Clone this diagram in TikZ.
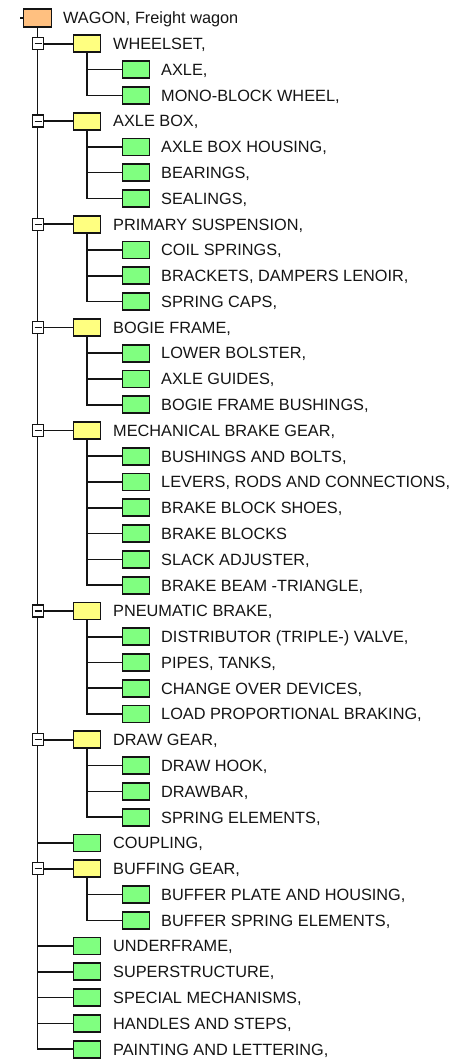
\documentclass[tikz,border=0pt]{standalone}
\usepackage{fontspec}
\setmainfont{Liberation Sans}
\pgfdeclarelayer{background}
\pgfsetlayers{background,main}
\definecolor{rootc}{HTML}{FFC080}
\definecolor{grpc}{HTML}{FFFF80}
\definecolor{leafc}{HTML}{80FF80}
\definecolor{inkc}{HTML}{141414}
\tikzset{
  box/.style={draw=inkc, line width=1.8pt, minimum width=27pt, minimum height=17pt, inner sep=0pt},
  rbox/.style={box, fill=rootc, minimum width=28pt, minimum height=18pt},
  ybox/.style={box, fill=grpc},
  gbox/.style={box, fill=leafc},
  lab/.style={anchor=west, inner sep=0pt, text height=11.7pt, text depth=0pt, text=inkc,
              font=\fontsize{16.3}{18}\selectfont},
  expbox/.style={draw=inkc, line width=1.3pt, fill=white, minimum width=11pt, minimum height=12pt, inner sep=0pt},
  conn/.style={draw=inkc, line width=1.6pt},
}
\newcommand{\mkkid}[2]{\node[gbox] (b#1) at (136,#1) {}; \node[lab] (t#1) at (161,#1) {#2};}
\newcommand{\mkleaf}[2]{\node[gbox] (b#1) at (87,#1) {}; \node[lab] (t#1) at (113,#1) {#2};}
\newcommand{\mkgrp}[2]{\node[ybox] (b#1) at (87,#1) {}; \node[lab] (t#1) at (113,#1) {#2};
  \node[expbox] (e#1) at (38,#1) {};
  \draw[line width=1.2pt, inkc] ([xshift=-3.5pt]e#1.center) -- ([xshift=3.5pt]e#1.center);}
\begin{document}
\begin{tikzpicture}[x=1pt, y=-25.78pt]
\useasboundingbox (0pt,18pt) rectangle (460pt,-1045pt);
\node[rbox] (b0) at (37.5,0) {};
\node[lab] (t0) at (63,0) {WAGON, Freight wagon};
\coordinate (stub) at ([xshift=-3pt]b0.west);
\mkgrp{1}{WHEELSET,}
\mkkid{2}{AXLE,}
\mkkid{3}{MONO-BLOCK WHEEL,}
\mkgrp{4}{AXLE BOX,}
\mkkid{5}{AXLE BOX HOUSING,}
\mkkid{6}{BEARINGS,}
\mkkid{7}{SEALINGS,}
\mkgrp{8}{PRIMARY SUSPENSION,}
\mkkid{9}{COIL SPRINGS,}
\mkkid{10}{BRACKETS, DAMPERS LENOIR,}
\mkkid{11}{SPRING CAPS,}
\mkgrp{12}{BOGIE FRAME,}
\mkkid{13}{LOWER BOLSTER,}
\mkkid{14}{AXLE GUIDES,}
\mkkid{15}{BOGIE FRAME BUSHINGS,}
\mkgrp{16}{MECHANICAL BRAKE GEAR,}
\mkkid{17}{BUSHINGS AND BOLTS,}
\mkkid{18}{LEVERS, RODS AND CONNECTIONS,}
\mkkid{19}{BRAKE BLOCK SHOES,}
\mkkid{20}{BRAKE BLOCKS}
\mkkid{21}{SLACK ADJUSTER,}
\mkkid{22}{BRAKE BEAM -TRIANGLE,}
\mkgrp{23}{PNEUMATIC BRAKE,}
\mkkid{24}{DISTRIBUTOR (TRIPLE-) VALVE,}
\mkkid{25}{PIPES, TANKS,}
\mkkid{26}{CHANGE OVER DEVICES,}
\mkkid{27}{LOAD PROPORTIONAL BRAKING,}
\mkgrp{28}{DRAW GEAR,}
\mkkid{29}{DRAW HOOK,}
\mkkid{30}{DRAWBAR,}
\mkkid{31}{SPRING ELEMENTS,}
\mkleaf{32}{COUPLING,}
\mkgrp{33}{BUFFING GEAR,}
\mkkid{34}{BUFFER PLATE AND HOUSING,}
\mkkid{35}{BUFFER SPRING ELEMENTS,}
\mkleaf{36}{UNDERFRAME,}
\mkleaf{37}{SUPERSTRUCTURE,}
\mkleaf{38}{SPECIAL MECHANISMS,}
\mkleaf{39}{HANDLES AND STEPS,}
\mkleaf{40}{PAINTING AND LETTERING,}
\begin{pgfonlayer}{background}
  \draw[conn] (b0.west) -- (stub);
  % trunk
  \draw[conn] (b0.south) |- (b40.west);
  % level-1 links
  \foreach \g in {1,4,8,12,16,23,28,33} {\draw[conn] (e\g.east) -- (b\g.west);}
  \foreach \l in {32,36,37,38,39} {\draw[conn] (b0.south |- b\l.west) -- (b\l.west);}
  % level-2 groups: parent/first/last
  \foreach \p/\f/\z in {1/2/3, 4/5/7, 8/9/11, 12/13/15, 16/17/22, 23/24/27, 28/29/31, 33/34/35} {
    \draw[conn] (b\p.south) |- (b\z.west);
    \foreach \k in {\f,...,\z} {\draw[conn] (b\p.south |- b\k.west) -- (b\k.west);}
  }
\end{pgfonlayer}
\end{tikzpicture}
\end{document}
